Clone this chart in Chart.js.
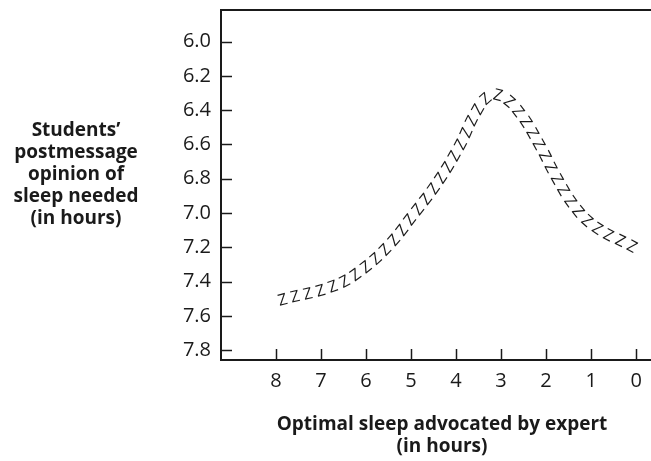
<!DOCTYPE html>
<html>
<head>
<meta charset="utf-8">
<script src="https://cdn.jsdelivr.net/npm/chart.js@4"></script>
<style>
  html, body { margin: 0; padding: 0; background: #fff; }
  #wrap { width: 651px; height: 461px; position: relative; }
</style>
</head>
<body>
<div id="wrap"><canvas id="sleepChart" width="651" height="461"></canvas></div>
<script>
// values
const expertHours = [7.85, 6.7, 6.1, 5.5, 4.95, 4.35, 3.9, 3.55, 3.25, 2.95, 2.6, 2.2, 1.8, 1.4, 0.95, 0.1];
const opinionHours = [7.51, 7.43, 7.34, 7.2, 7.02, 6.81, 6.61, 6.42, 6.32, 6.33, 6.42, 6.59, 6.79, 6.96, 7.08, 7.2];
const xTickValues = [8, 7, 6, 5, 4, 3, 2, 1, 0];
const yTickValues = [6.0, 6.2, 6.4, 6.6, 6.8, 7.0, 7.2, 7.4, 7.6, 7.8];
const yTitleLines = ['Students\u2019', 'postmessage', 'opinion of', 'sleep needed', '(in hours)'];
const xTitleLines = ['Optimal sleep advocated by expert', '(in hours)'];

const ink = '#1a1a1a';
const fontName = "'Open Sans', 'DejaVu Sans', sans-serif";

// draws the frame top, the inner tick marks and the two titles
const decorPlugin = {
    id: 'decor',
    afterDraw(chart) {
        const { ctx, chartArea, scales } = chart;
        ctx.save();
        ctx.strokeStyle = ink;

        // top edge of the frame
        ctx.lineWidth = 2;
        ctx.beginPath();
        ctx.moveTo(chartArea.left - 1, chartArea.top);
        ctx.lineTo(chart.width, chartArea.top);
        ctx.stroke();

        // tick marks pointing into the plot
        ctx.lineWidth = 1.5;
        yTickValues.forEach(v => {
            const y = Math.round(scales.y.getPixelForValue(v)) + 0.5;
            ctx.beginPath();
            ctx.moveTo(chartArea.left, y);
            ctx.lineTo(chartArea.left + 11, y);
            ctx.stroke();
        });
        xTickValues.forEach(v => {
            const x = Math.round(scales.x.getPixelForValue(v)) + 0.5;
            ctx.beginPath();
            ctx.moveTo(x, chartArea.bottom);
            ctx.lineTo(x, chartArea.bottom - 11);
            ctx.stroke();
        });

        // titles
        ctx.fillStyle = ink;
        ctx.font = 'bold 19px ' + fontName;
        ctx.textAlign = 'center';
        ctx.textBaseline = 'middle';
        yTitleLines.forEach((line, i) => ctx.fillText(line, 76, 131 + i * 22));
        xTitleLines.forEach((line, i) => ctx.fillText(line, 442, 425 + i * 22));
        ctx.restore();
    }
};

// writes the curve as a row of Z letters following the spline
const zzzPlugin = {
    id: 'zzz',
    afterDatasetsDraw(chart) {
        const meta = chart.getDatasetMeta(0);
        const line = meta.dataset;
        if (line && line.updateControlPoints) line.updateControlPoints(chart.chartArea, 'x');
        const pts = meta.data;
        const path = [];
        for (let i = 0; i < pts.length - 1; i++) {
            const a = pts[i], b = pts[i + 1];
            const c1x = a.cp2x ?? a.x, c1y = a.cp2y ?? a.y;
            const c2x = b.cp1x ?? b.x, c2y = b.cp1y ?? b.y;
            for (let s = 0; s < 40; s++) {
                const t = s / 40, u = 1 - t;
                path.push({
                    x: u*u*u*a.x + 3*u*u*t*c1x + 3*u*t*t*c2x + t*t*t*b.x,
                    y: u*u*u*a.y + 3*u*u*t*c1y + 3*u*t*t*c2y + t*t*t*b.y
                });
            }
        }
        const last = pts[pts.length - 1];
        path.push({ x: last.x, y: last.y });

        const { ctx } = chart;
        ctx.save();
        ctx.fillStyle = ink;
        ctx.font = '500 16px ' + fontName;
        ctx.textAlign = 'center';
        ctx.textBaseline = 'middle';
        const step = 13;
        let nextAt = 0, walked = 0;
        for (let i = 0; i < path.length - 1; i++) {
            const p = path[i], q = path[i + 1];
            const seg = Math.hypot(q.x - p.x, q.y - p.y);
            while (walked + seg >= nextAt) {
                const f = seg ? (nextAt - walked) / seg : 0;
                const x = p.x + (q.x - p.x) * f;
                const y = p.y + (q.y - p.y) * f;
                ctx.save();
                ctx.translate(x, y);
                ctx.rotate(Math.atan2(q.y - p.y, q.x - p.x));
                ctx.fillText('Z', 0, 0);
                ctx.restore();
                nextAt += step;
            }
            walked += seg;
        }
        ctx.restore();
    }
};

new Chart(document.getElementById('sleepChart'), {
    type: 'line',
    data: {
        datasets: [{
            data: expertHours.map((x, i) => ({ x, y: opinionHours[i] })),
            borderColor: 'rgba(0,0,0,0)',
            borderWidth: 1,
            pointRadius: 0,
            tension: 0.4
        }]
    },
    options: {
        responsive: false,
        animation: false,
        events: [],
        layout: { padding: { top: 10, right: 0, bottom: 0, left: 0 } },
        plugins: { legend: { display: false }, tooltip: { enabled: false } },
        scales: {
            x: {
                type: 'linear',
                reverse: true,
                min: -0.33,
                max: 9.22,
                afterBuildTicks: s => { s.ticks = xTickValues.map(value => ({ value })); },
                afterFit: s => { s.height = 101; s.paddingLeft = 0; s.paddingRight = 0; },
                grid: { display: false, drawTicks: false },
                border: { display: true, color: ink, width: 2 },
                ticks: { color: ink, font: { family: fontName, size: 20 }, padding: 9, maxRotation: 0 }
            },
            y: {
                type: 'linear',
                reverse: true,
                min: 5.815,
                max: 7.858,
                afterBuildTicks: s => { s.ticks = yTickValues.map(value => ({ value })); },
                afterFit: s => { s.width = 221; s.paddingTop = 0; s.paddingBottom = 0; },
                grid: { display: false, drawTicks: false },
                border: { display: true, color: ink, width: 2 },
                ticks: {
                    color: ink,
                    font: { family: fontName, size: 20 },
                    padding: 10,
                    callback: v => Number(v).toFixed(1)
                }
            }
        }
    },
    plugins: [zzzPlugin, decorPlugin]
});
</script>
</body>
</html>
